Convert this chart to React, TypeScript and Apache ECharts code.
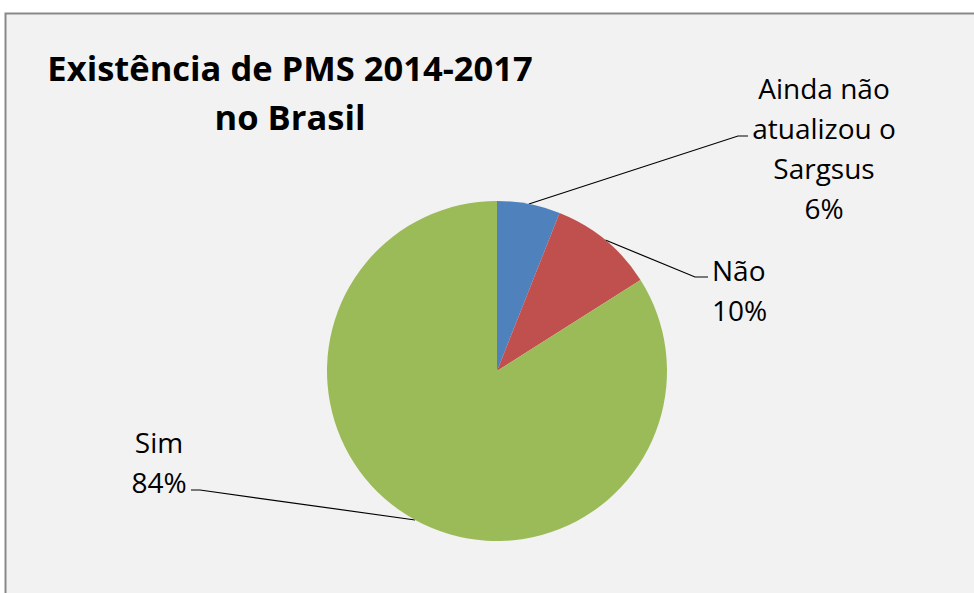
import React, { useEffect, useRef } from "react";
import * as echarts from "echarts";

const titleLines = ["Existência de PMS 2014-2017", "no Brasil"];
const categories = ["Ainda não\natualizou o\nSargsus", "Não", "Sim"];
const values = [6, 10, 84];
const colors = ["#4f81bd", "#c0504d", "#9bbb59"];

export default function App() {
  const ref = useRef<HTMLDivElement>(null);
  useEffect(() => {
    if (!ref.current) return;
    const chart = echarts.init(ref.current, null, { renderer: "svg" });
    const labelPos: Record<number, any> = {
      0: { x: 824, y: 148, align: "center", bend: [[738, 136], [748, 136]] },
      1: { x: 712, y: 290, align: "left", bend: [[695, 277], [708, 277]] },
      2: { x: 159, y: 462, align: "center", bend: [[200, 490], [191, 490]] },
    };
    chart.setOption({
      animation: false,
      backgroundColor: "#ffffff",
      graphic: [
        {
          type: "rect",
          shape: { x: 5.5, y: 13.5, width: 1000, height: 700 },
          style: { fill: "#f2f2f2", stroke: "#898989", lineWidth: 2 },
          z: -10,
        },
      ],
      title: {
        text: titleLines.join("\n"),
        left: 285,
        top: 38,
        textAlign: "center",
        textStyle: {
          fontFamily: "Open Sans",
          fontWeight: "bold",
          fontSize: 34.5,
          lineHeight: 49,
          color: "#000",
        },
      },
      series: [
        {
          type: "pie",
          center: [497, 371],
          radius: 170,
          startAngle: 90,
          clockwise: true,
          color: colors,
          itemStyle: { borderWidth: 0 },
          label: {
            show: true,
            formatter: (p: any) => `${p.name}\n${Math.round(p.percent)}%`,
            fontFamily: "Open Sans",
            fontSize: 28,
            lineHeight: 40,
            color: "#000",
          },
          labelLine: {
            show: true,
            length: 20,
            length2: 10,
            lineStyle: { color: "#000", width: 1.2 },
          },
          labelLayout: (params: any) => {
            const cfg = labelPos[params.dataIndex];
            const start = params.labelLinePoints
              ? params.labelLinePoints[0]
              : cfg.bend[0];
            return {
              x: cfg.x,
              y: cfg.y,
              align: cfg.align,
              verticalAlign: "middle",
              labelLinePoints: [start, cfg.bend[0], cfg.bend[1]],
            };
          },
          data: categories.map((c, i) => ({ name: c, value: values[i] })),
        },
      ],
    });
    return () => chart.dispose();
  }, []);
  return (
    <div
      ref={ref}
      style={{ position: "fixed", left: 0, top: 0, width: 974, height: 593 }}
    />
  );
}
